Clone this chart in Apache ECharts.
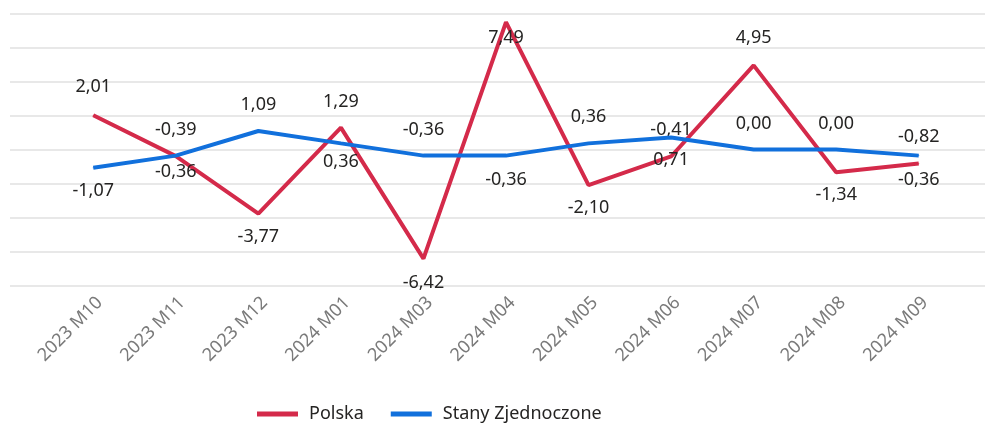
<!DOCTYPE html>
<html><head><meta charset="utf-8">
<script src="https://cdn.jsdelivr.net/npm/echarts@6/dist/echarts.min.js"></script>
<style>html,body{margin:0;padding:0;background:#fff}#c{width:985px;height:423px}</style>
</head><body><div id="c"></div><script>
const categories = ['2023 M10','2023 M11','2023 M12','2024 M01','2024 M03','2024 M04','2024 M05','2024 M06','2024 M07','2024 M08','2024 M09'];
const polska = [2.01,-0.39,-3.77,1.29,-6.42,7.49,-2.10,-0.41,4.95,-1.34,-0.82];
const stany = [-1.07,-0.36,1.09,0.36,-0.36,-0.36,0.36,0.71,0.00,0.00,-0.36];
const seriesNames = ['Polska','Stany Zjednoczone'];
const yMin = -8, yMax = 8, yStep = 2;

// label vertical offsets in px (styling only)
const polskaLabelDy = [-28,-26,23,-26,24,16,23,-27,-27,23,-27];
const stanyLabelDy = [23,16,-26,18,-26,24,-27,22,-26,-26,24];

const FONT = "'Segoe UI','Noto Sans','Open Sans',sans-serif";
const fmt = v => v.toFixed(2).replace('.', ',');

function mkData(vals, dys) {
  return vals.map((v, i) => ({
    value: v,
    label: { offset: [0, dys[i]] }
  }));
}

function mkSeries(name, vals, dys, color, z) {
  return {
    name, type: 'line', xAxisIndex: 1, yAxisIndex: 1,
    data: mkData(vals, dys),
    symbol: 'circle', symbolSize: 1, showSymbol: true,
    itemStyle: { color },
    lineStyle: { color, width: 4 },
    z,
    label: {
      show: true, position: 'inside',
      formatter: p => fmt(p.value),
      color: '#252423', fontFamily: FONT, fontSize: 18
    },
    emphasis: { disabled: true },
    silent: true
  };
}

const chart = echarts.init(document.getElementById('c'));
chart.setOption({
  animation: false,
  backgroundColor: '#fff',
  grid: [
    { left: 10, right: 0, top: 13.5, height: 272 },
    { left: 52, width: 908, top: 13.5, height: 272 }
  ],
  xAxis: [
    { gridIndex: 0, type: 'value', min: 0, max: 1, show: false },
    { gridIndex: 1, type: 'category', data: categories, boundaryGap: true,
      axisLine: { show: false }, axisTick: { show: false }, splitLine: { show: false },
      axisLabel: { rotate: 45, margin: 8, verticalAlign: 'top', color: '#7a7a7a', fontFamily: FONT, fontSize: 18, interval: 0 } }
  ],
  yAxis: [
    { gridIndex: 0, type: 'value', min: yMin, max: yMax, interval: yStep,
      axisLabel: { show: false }, axisLine: { show: false }, axisTick: { show: false },
      splitLine: { show: true, lineStyle: { color: '#e1e1e1', width: 1.5 } } },
    { gridIndex: 1, type: 'value', min: yMin, max: yMax, interval: yStep,
      axisLabel: { show: false }, axisLine: { show: false }, axisTick: { show: false },
      splitLine: { show: false } }
  ],
  legend: {
    data: seriesNames, left: 252, top: 400,
    icon: 'rect', itemWidth: 41, itemHeight: 5, itemGap: 27,
    textStyle: { color: '#252423', fontFamily: FONT, fontSize: 18, padding: [0, 0, 0, 6] }
  },
  series: [
    mkSeries(seriesNames[0], polska, polskaLabelDy, '#D42A4A', 3),
    mkSeries(seriesNames[1], stany, stanyLabelDy, '#1170DC', 4)
  ]
});
</script></body></html>
